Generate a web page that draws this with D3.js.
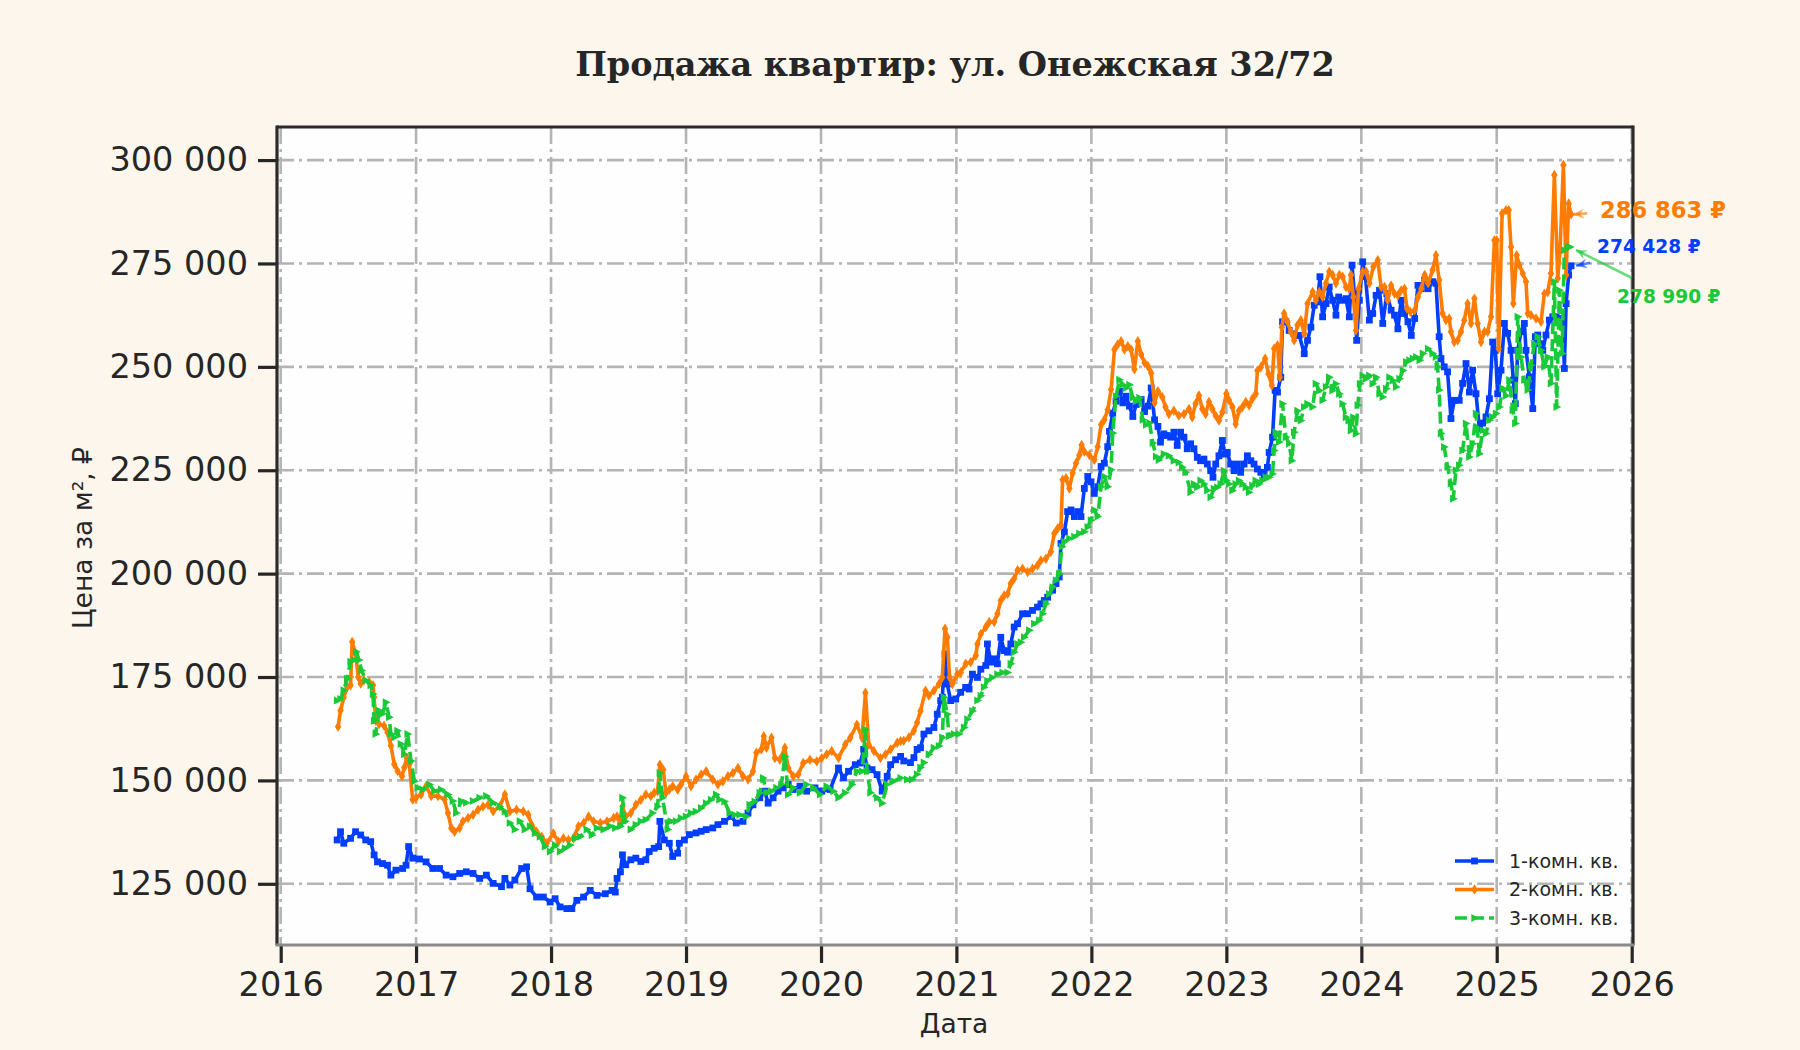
<!DOCTYPE html>
<html><head><meta charset="utf-8">
<script src="https://cdn.jsdelivr.net/npm/d3@7"></script>
<style>html,body{margin:0;padding:0;background:#fdf6ec;}svg{display:block;}</style>
</head><body>
<svg id="chart" width="1800" height="1050"></svg>
<script>
// ---------- data ----------
const chartTitle = "Продажа квартир: ул. Онежская 32/72";
const xTitle = "Дата";
const yTitle = "Цена за м², ₽";
const seriesNames = ["1-комн. кв.", "2-комн. кв.", "3-комн. кв."];
const seriesColors = ["#023eff", "#ff7c00", "#1ac938"];
const yearTicks = [2016, 2017, 2018, 2019, 2020, 2021, 2022, 2023, 2024, 2025, 2026];
const priceTicks = [125000, 150000, 175000, 200000, 225000, 250000, 275000, 300000];

// [decimal year, price per m²]
const room1 = [
[2016.417,135600],[2016.442,137600],[2016.466,134800],[2016.516,136000],[2016.553,137600],[2016.591,136800],[2016.628,135600],[2016.665,135200],[2016.690,132000],[2016.715,130300],[2016.752,129900],[2016.789,129500],[2016.814,127100],[2016.851,128300],[2016.901,128700],[2016.926,129500],[2016.945,134000],[2016.975,131200],
[2017.025,131000],[2017.074,130300],[2017.124,128700],[2017.174,128700],[2017.223,127100],[2017.273,126700],[2017.323,127500],[2017.372,127900],[2017.422,127500],[2017.471,126300],[2017.521,127100],[2017.571,125100],[2017.633,124300],[2017.658,126300],[2017.695,124700],[2017.732,125900],[2017.782,128700],[2017.819,129100],[2017.844,123800],[2017.893,121800],[2017.943,121800],[2017.993,120600],
[2018.030,121400],[2018.067,119400],[2018.117,119000],[2018.154,119000],[2018.191,121000],[2018.241,121800],[2018.290,123400],[2018.340,122200],[2018.402,122600],[2018.452,123400],[2018.476,123000],[2018.489,126300],[2018.514,127900],[2018.529,132000],[2018.553,129600],[2018.591,130800],[2018.628,131200],[2018.665,130400],[2018.702,130800],[2018.727,132800],[2018.764,133600],[2018.797,134000],[2018.806,140100],[2018.839,135600],[2018.876,134800],[2018.901,131600],[2018.938,132400],[2018.950,134800],[2018.988,135600],
[2019.025,136900],[2019.074,137300],[2019.112,137700],[2019.149,138100],[2019.198,138500],[2019.236,139300],[2019.285,140100],[2019.335,141300],[2019.372,139700],[2019.422,140100],[2019.459,142100],[2019.496,144100],[2019.546,145800],[2019.583,147400],[2019.608,144500],[2019.645,145800],[2019.682,147400],[2019.720,148200],[2019.757,149000],[2019.794,147800],[2019.844,148600],[2019.893,147400],[2019.955,148200],
[2020.005,147400],[2020.067,147800],[2020.129,153000],[2020.166,150600],[2020.203,152200],[2020.253,153800],[2020.290,154200],[2020.315,157500],[2020.340,153000],[2020.377,152600],[2020.414,151400],[2020.452,147400],[2020.489,151000],[2020.514,153800],[2020.551,155000],[2020.588,155800],[2020.611,154700],[2020.661,154300],[2020.686,155500],[2020.710,157500],[2020.735,157900],[2020.760,161200],[2020.797,162000],[2020.834,162800],[2020.859,166000],[2020.884,169300],[2020.896,170100],[2020.916,180600],[2020.933,173300],[2020.958,169300],[2020.995,169700],
[2021.032,171300],[2021.069,172500],[2021.094,172100],[2021.119,175700],[2021.156,174900],[2021.181,176900],[2021.218,177800],[2021.230,183000],[2021.255,178600],[2021.280,179400],[2021.304,178200],[2021.329,184600],[2021.354,181400],[2021.379,181000],[2021.403,183000],[2021.428,187100],[2021.453,187900],[2021.490,190300],[2021.527,190300],[2021.564,191100],[2021.601,191900],[2021.626,192700],[2021.651,193500],[2021.676,194300],[2021.713,196000],[2021.738,197600],[2021.762,199200],[2021.775,207300],[2021.800,210100],[2021.824,215000],[2021.849,215400],[2021.874,213800],[2021.898,215000],[2021.923,213800],[2021.948,220600],[2021.973,223500],[2021.997,222200],
[2022.022,219400],[2022.047,221000],[2022.072,225900],[2022.096,226700],[2022.121,230700],[2022.134,234400],[2022.158,238800],[2022.183,241700],[2022.208,244100],[2022.233,241300],[2022.257,242900],[2022.282,240500],[2022.307,238000],[2022.332,240900],[2022.369,242100],[2022.394,239200],[2022.418,240500],[2022.443,244900],[2022.468,237200],[2022.493,235600],[2022.512,231800],[2022.537,233800],[2022.562,233400],[2022.587,233000],[2022.611,234200],[2022.636,231000],[2022.661,234200],[2022.686,233000],[2022.710,230200],[2022.735,231400],[2022.760,230200],[2022.785,228100],[2022.809,227300],[2022.834,227700],[2022.859,226500],[2022.884,224900],[2022.901,223300],[2022.921,226500],[2022.945,228500],[2022.970,232200],[2022.990,228900],
[2023.007,229300],[2023.032,226500],[2023.057,224900],[2023.082,226500],[2023.106,224500],[2023.131,226500],[2023.156,228500],[2023.181,227300],[2023.205,226500],[2023.230,225300],[2023.255,224500],[2023.280,223700],[2023.304,225700],[2023.317,229300],[2023.342,233000],[2023.361,244300],[2023.379,243900],[2023.403,247500],[2023.416,260900],[2023.441,260900],[2023.465,258800],[2023.502,258000],[2023.540,257600],[2023.577,253200],[2023.601,256400],[2023.626,259600],[2023.651,264900],[2023.676,265700],[2023.693,271800],[2023.713,262100],[2023.738,265300],[2023.762,269300],[2023.787,266100],[2023.812,262500],[2023.832,266900],[2023.856,266100],[2023.886,266500],[2023.911,262100],[2023.931,274600],[2023.948,267700],[2023.965,256400],[2023.985,266100],
[2024.010,275400],[2024.030,271800],[2024.059,261300],[2024.084,262900],[2024.109,267300],[2024.134,268500],[2024.158,260500],[2024.188,267700],[2024.220,263700],[2024.245,262500],[2024.270,259200],[2024.294,266100],[2024.319,262900],[2024.344,260900],[2024.369,257600],[2024.394,261700],[2024.418,269700],[2024.443,268900],[2024.468,271000],[2024.493,268900],[2024.526,270600],[2024.551,270200],[2024.575,257300],[2024.588,252000],[2024.612,250000],[2024.637,248800],[2024.662,237500],[2024.686,241900],[2024.723,241900],[2024.748,246000],[2024.773,250800],[2024.798,243900],[2024.822,249200],[2024.847,243500],[2024.872,235100],[2024.896,236400],[2024.921,237900],[2024.946,242300],[2024.970,256000],[2024.990,254000],
[2025.007,243500],[2025.032,249200],[2025.057,260500],[2025.081,258100],[2025.106,254000],[2025.123,246800],[2025.138,241100],[2025.156,254000],[2025.180,258500],[2025.205,260500],[2025.217,254000],[2025.242,247600],[2025.267,239900],[2025.286,257300],[2025.304,257700],[2025.323,255600],[2025.341,254000],[2025.365,257700],[2025.390,261300],[2025.415,262100],[2025.440,262100],[2025.464,261700],[2025.489,261300],[2025.501,249600],[2025.514,265300],[2025.533,272200],[2025.551,274428]
];

const room2 = [
[2016.424,163000],[2016.442,166900],[2016.466,170100],[2016.491,172600],[2016.516,173000],[2016.528,183500],[2016.553,180700],[2016.573,175000],[2016.591,173400],[2016.615,174200],[2016.653,173800],[2016.682,173000],[2016.690,170100],[2016.702,164400],[2016.727,163600],[2016.764,163200],[2016.789,161600],[2016.814,158400],[2016.839,153900],[2016.863,152300],[2016.896,151000],[2016.913,153100],[2016.931,155500],[2016.950,153900],[2016.975,145400],
[2017.000,145800],[2017.037,146600],[2017.074,148600],[2017.112,146200],[2017.161,146200],[2017.211,145400],[2017.236,142100],[2017.261,138500],[2017.285,137600],[2017.323,138500],[2017.347,140100],[2017.385,140900],[2017.422,141700],[2017.459,142900],[2017.496,143700],[2017.533,144100],[2017.571,142500],[2017.620,143700],[2017.658,146600],[2017.695,142500],[2017.744,142900],[2017.794,142500],[2017.831,141700],[2017.856,139300],[2017.893,137600],[2017.931,136400],[2017.968,134800],
[2018.017,137200],[2018.055,135200],[2018.092,136000],[2018.129,135600],[2018.166,136000],[2018.203,138900],[2018.241,139700],[2018.278,141300],[2018.315,140100],[2018.365,139700],[2018.414,140100],[2018.464,140900],[2018.489,141300],[2018.514,139700],[2018.529,143700],[2018.553,141300],[2018.591,142100],[2018.628,144100],[2018.665,145300],[2018.702,146600],[2018.739,146200],[2018.764,147000],[2018.789,147400],[2018.806,153800],[2018.831,152600],[2018.851,147000],[2018.876,147800],[2018.901,148600],[2018.938,147800],[2018.963,149000],
[2019.000,151000],[2019.037,148600],[2019.074,150200],[2019.112,151400],[2019.149,152200],[2019.198,150200],[2019.236,149000],[2019.273,149800],[2019.310,151000],[2019.347,151800],[2019.385,153000],[2019.422,151000],[2019.459,150200],[2019.496,152200],[2019.521,156700],[2019.558,157500],[2019.576,160700],[2019.596,157900],[2019.633,160300],[2019.658,155400],[2019.695,155000],[2019.732,157900],[2019.757,153000],[2019.794,151000],[2019.831,151400],[2019.868,154200],[2019.918,155000],[2019.968,154600],
[2020.005,155400],[2020.042,156300],[2020.079,157100],[2020.129,155400],[2020.179,158700],[2020.216,160300],[2020.265,163500],[2020.303,160300],[2020.328,171200],[2020.352,158700],[2020.390,157100],[2020.439,155400],[2020.476,156300],[2020.514,157500],[2020.563,159100],[2020.588,159500],[2020.611,159600],[2020.649,160400],[2020.686,162000],[2020.710,164000],[2020.735,166800],[2020.772,171700],[2020.797,170500],[2020.834,171700],[2020.871,173300],[2020.896,174900],[2020.916,186700],[2020.933,184600],[2020.950,174900],[2020.970,173300],
[2021.007,175700],[2021.032,176100],[2021.069,178200],[2021.106,178600],[2021.144,180200],[2021.156,183000],[2021.181,185400],[2021.218,187100],[2021.243,188300],[2021.280,188300],[2021.304,190300],[2021.329,193500],[2021.354,194700],[2021.379,195100],[2021.403,197600],[2021.428,198800],[2021.453,200800],[2021.490,201200],[2021.527,200400],[2021.564,201200],[2021.601,202000],[2021.626,203200],[2021.663,203600],[2021.700,205300],[2021.725,209700],[2021.750,210900],[2021.775,211700],[2021.787,222700],[2021.812,223100],[2021.837,220600],[2021.861,224300],[2021.886,226700],[2021.911,228700],[2021.928,231100],[2021.948,229500],[2021.985,228700],
[2022.022,227500],[2022.047,230700],[2022.072,236000],[2022.096,237200],[2022.121,239600],[2022.146,244500],[2022.171,254200],[2022.195,255400],[2022.220,256200],[2022.245,254200],[2022.270,255000],[2022.294,254200],[2022.319,249400],[2022.344,256200],[2022.369,253000],[2022.394,251000],[2022.418,250200],[2022.443,248500],[2022.468,241300],[2022.493,244100],[2022.525,242700],[2022.549,240300],[2022.574,238600],[2022.611,239400],[2022.648,238200],[2022.686,238600],[2022.723,239800],[2022.747,237800],[2022.772,241100],[2022.797,243100],[2022.822,239800],[2022.846,238600],[2022.871,241500],[2022.896,239800],[2022.921,238200],[2022.945,237000],[2022.970,239000],
[2023.000,243500],[2023.020,241900],[2023.045,240300],[2023.069,236200],[2023.094,239400],[2023.119,240300],[2023.144,241500],[2023.168,240700],[2023.193,242300],[2023.218,243500],[2023.230,249100],[2023.255,249900],[2023.287,252000],[2023.312,248300],[2023.337,245500],[2023.354,254400],[2023.379,255200],[2023.396,247500],[2023.411,259600],[2023.428,262900],[2023.453,260900],[2023.478,258400],[2023.502,256400],[2023.527,260100],[2023.552,261300],[2023.577,258000],[2023.601,265300],[2023.639,268100],[2023.663,266100],[2023.688,268100],[2023.713,266900],[2023.738,270200],[2023.762,273000],[2023.787,272200],[2023.812,270200],[2023.837,272200],[2023.861,271800],[2023.886,269300],[2023.911,268900],[2023.923,272200],[2023.941,266900],[2023.960,258800],[2023.980,268900],
[2024.010,273000],[2024.035,273000],[2024.059,270200],[2024.089,274200],[2024.121,275800],[2024.146,269300],[2024.171,269300],[2024.195,266100],[2024.220,269700],[2024.245,267700],[2024.270,267300],[2024.294,268500],[2024.319,268900],[2024.337,264100],[2024.361,263300],[2024.394,263700],[2024.418,266900],[2024.443,268900],[2024.468,272200],[2024.493,270200],[2024.526,273400],[2024.551,277000],[2024.575,271000],[2024.600,262900],[2024.625,261300],[2024.649,261700],[2024.662,258500],[2024.686,256000],[2024.711,256400],[2024.736,258500],[2024.760,261300],[2024.785,265300],[2024.810,260500],[2024.835,266500],[2024.859,260500],[2024.884,256000],[2024.909,258500],[2024.933,258500],[2024.958,262100],[2024.983,280600],
[2025.000,280600],[2025.015,254400],[2025.040,287100],[2025.069,287900],[2025.089,287900],[2025.106,279000],[2025.123,265300],[2025.148,277000],[2025.168,274600],[2025.193,272600],[2025.217,270600],[2025.230,262900],[2025.254,262500],[2025.291,261700],[2025.328,260900],[2025.353,267700],[2025.378,268100],[2025.402,272600],[2025.427,296400],[2025.452,271400],[2025.469,278200],[2025.494,298800],[2025.514,272200],[2025.533,289500],[2025.551,286863]
];

const room3 = [
[2016.417,169300],[2016.442,169700],[2016.466,171800],[2016.491,174600],[2016.516,178700],[2016.541,179100],[2016.558,181100],[2016.578,179100],[2016.598,176600],[2016.628,174200],[2016.665,173000],[2016.682,170900],[2016.690,164400],[2016.702,161200],[2016.727,166900],[2016.752,166100],[2016.777,168900],[2016.801,165300],[2016.814,161200],[2016.839,160400],[2016.863,162000],[2016.888,158800],[2016.913,156300],[2016.938,161200],[2016.963,154700],[2016.988,149800],
[2017.012,148200],[2017.050,147800],[2017.099,149000],[2017.136,147400],[2017.186,147800],[2017.236,146600],[2017.273,145000],[2017.298,142100],[2017.335,145000],[2017.372,144600],[2017.422,145000],[2017.471,145800],[2017.521,146200],[2017.571,144600],[2017.620,143700],[2017.658,142500],[2017.695,139700],[2017.732,138100],[2017.769,140100],[2017.806,138100],[2017.844,138900],[2017.881,137200],[2017.918,136400],[2017.955,134000],[2017.993,132800],
[2018.030,134400],[2018.067,132800],[2018.104,133600],[2018.141,134400],[2018.179,136000],[2018.216,136400],[2018.265,138100],[2018.303,136800],[2018.340,138500],[2018.390,138100],[2018.439,138900],[2018.476,138500],[2018.514,138900],[2018.529,145800],[2018.548,140100],[2018.591,138100],[2018.628,139300],[2018.665,140100],[2018.702,140500],[2018.752,142100],[2018.789,143700],[2018.806,151800],[2018.826,145800],[2018.864,138100],[2018.888,140100],[2018.926,140100],[2018.963,140900],
[2019.000,141300],[2019.037,142100],[2019.074,142500],[2019.112,143300],[2019.149,144500],[2019.186,145300],[2019.223,146600],[2019.248,145300],[2019.285,144900],[2019.323,142100],[2019.360,141700],[2019.397,141700],[2019.447,141300],[2019.471,144100],[2019.509,144900],[2019.546,147000],[2019.571,150600],[2019.596,147000],[2019.633,147400],[2019.670,148200],[2019.707,149000],[2019.732,155800],[2019.757,146600],[2019.794,148200],[2019.844,147000],[2019.893,149000],[2019.943,148200],[2019.993,146600],
[2020.042,148600],[2020.092,147400],[2020.129,145800],[2020.179,147000],[2020.228,149000],[2020.265,152200],[2020.303,152200],[2020.328,162300],[2020.340,152200],[2020.365,147000],[2020.414,145800],[2020.452,144500],[2020.489,149000],[2020.538,149800],[2020.588,150600],[2020.636,150200],[2020.673,150200],[2020.710,151500],[2020.735,153100],[2020.760,154300],[2020.797,156300],[2020.834,157900],[2020.871,158300],[2020.896,160400],[2020.908,170100],[2020.933,166000],[2020.945,160700],[2020.983,161200],
[2021.020,161200],[2021.057,162800],[2021.082,164800],[2021.119,166800],[2021.156,169300],[2021.181,170500],[2021.205,172500],[2021.230,174100],[2021.267,174900],[2021.304,175700],[2021.342,176100],[2021.379,176100],[2021.403,178200],[2021.428,181000],[2021.453,183000],[2021.478,183400],[2021.502,184600],[2021.540,186300],[2021.577,187900],[2021.614,188700],[2021.639,190300],[2021.663,192700],[2021.688,195100],[2021.713,196700],[2021.738,198400],[2021.762,200000],[2021.782,206500],[2021.800,207700],[2021.837,208500],[2021.874,208900],[2021.911,209700],[2021.948,210100],[2021.973,211300],[2021.997,212900],
[2022.022,215400],[2022.047,213800],[2022.072,221000],[2022.096,223500],[2022.121,221000],[2022.146,225100],[2022.158,234000],[2022.183,242900],[2022.208,246900],[2022.233,245700],[2022.257,244900],[2022.282,245700],[2022.307,242500],[2022.332,241700],[2022.356,242500],[2022.381,237200],[2022.406,236000],[2022.431,236400],[2022.455,231600],[2022.480,228300],[2022.500,227500],[2022.537,228900],[2022.574,228500],[2022.611,227300],[2022.648,226900],[2022.673,225700],[2022.698,224500],[2022.735,219700],[2022.760,221700],[2022.785,220900],[2022.809,222500],[2022.834,221700],[2022.859,220100],[2022.884,218500],[2022.908,220500],[2022.933,220900],[2022.958,221700],[2022.983,224900],
[2023.000,222500],[2023.020,221700],[2023.045,220100],[2023.069,221700],[2023.094,222500],[2023.119,221700],[2023.144,220900],[2023.168,219700],[2023.193,221300],[2023.218,222500],[2023.243,221700],[2023.267,222500],[2023.292,223300],[2023.317,223300],[2023.342,224100],[2023.354,229800],[2023.366,234200],[2023.391,231800],[2023.416,241100],[2023.441,233000],[2023.465,231400],[2023.485,227300],[2023.502,234200],[2023.527,239400],[2023.552,237000],[2023.577,240300],[2023.601,241100],[2023.639,240300],[2023.663,245900],[2023.688,244300],[2023.713,241900],[2023.738,245100],[2023.762,247500],[2023.787,244300],[2023.812,245900],[2023.837,243500],[2023.861,241100],[2023.886,237800],[2023.906,237000],[2023.923,234600],[2023.941,237800],[2023.960,233800],[2023.973,240700],[2023.990,245900],
[2024.010,247900],[2024.035,247100],[2024.059,247900],[2024.084,245900],[2024.109,247500],[2024.134,243500],[2024.158,242700],[2024.183,244700],[2024.208,247500],[2024.233,246700],[2024.257,245100],[2024.282,247100],[2024.307,249100],[2024.332,251200],[2024.356,251600],[2024.381,252000],[2024.406,252400],[2024.431,251600],[2024.455,253200],[2024.493,254400],[2024.526,253200],[2024.551,252400],[2024.563,250000],[2024.575,244400],[2024.588,233900],[2024.612,230600],[2024.637,225800],[2024.662,221800],[2024.679,218100],[2024.699,225000],[2024.723,226200],[2024.748,229800],[2024.773,236300],[2024.798,228200],[2024.822,231400],[2024.847,238700],[2024.872,229000],[2024.896,234700],[2024.921,233900],[2024.946,237100],[2024.970,237900],[2024.995,238700],
[2025.020,240300],[2025.044,244800],[2025.069,243000],[2025.094,246800],[2025.119,239500],[2025.138,236300],[2025.156,262100],[2025.180,252400],[2025.205,246800],[2025.230,244400],[2025.254,250400],[2025.279,255600],[2025.304,257300],[2025.328,254000],[2025.353,250000],[2025.378,252400],[2025.402,246000],[2025.427,270600],[2025.444,240300],[2025.464,268500],[2025.484,253200],[2025.501,278200],[2025.526,279000],[2025.543,278990]
];

const seriesData = [room1, room2, room3];

// ---------- helpers ----------
function decYearToDate(d) {
  const y = Math.floor(d);
  const s = Date.UTC(y, 0, 1), e = Date.UTC(y + 1, 0, 1);
  return new Date(s + (d - y) * (e - s));
}
const fmtSpace = v => d3.format(",")(v).replace(/,/g, " ");

// ---------- layout ----------
const svg = d3.select("#chart");
const W = 1800, H = 1050;
const plot = { left: 277, right: 1633, top: 127, bottom: 945 };

svg.append("rect").attr("width", W).attr("height", H).attr("fill", "#fdf6ec");

const x = d3.scaleUtc()
  .domain([new Date(Date.UTC(2016, 0, 1)), new Date(Date.UTC(2026, 0, 1))])
  .range([280.7, 1631.7]);
const y = d3.scaleLinear().domain([110200, 308000]).range([plot.bottom, plot.top]);

// plot background
svg.append("rect")
  .attr("x", plot.left).attr("y", plot.top)
  .attr("width", plot.right - plot.left).attr("height", plot.bottom - plot.top)
  .attr("fill", "#fefefe");

// grid
const grid = svg.append("g").attr("class", "grid");
grid.selectAll("line.v").data(yearTicks).join("line")
  .attr("x1", d => x(new Date(Date.UTC(d, 0, 1)))).attr("x2", d => x(new Date(Date.UTC(d, 0, 1))))
  .attr("y1", plot.top).attr("y2", plot.bottom)
  .attr("stroke", "#b4b4b4").attr("stroke-width", 2.6).attr("stroke-dasharray", "17,5,3,5");
grid.selectAll("line.h").data(priceTicks).join("line")
  .attr("x1", plot.left).attr("x2", plot.right)
  .attr("y1", d => y(d)).attr("y2", d => y(d))
  .attr("stroke", "#b4b4b4").attr("stroke-width", 2.6).attr("stroke-dasharray", "17,5,3,5");

// clip
svg.append("clipPath").attr("id", "clip").append("rect")
  .attr("x", plot.left).attr("y", plot.top)
  .attr("width", plot.right - plot.left).attr("height", plot.bottom - plot.top);

const markerPaths = [
  "M-3.4,-3.4L3.4,-3.4L3.4,3.4L-3.4,3.4Z",
  "M0,-5.2L3.2,0L0,5.2L-3.2,0Z",
  "M-3.2,-4L4.6,0L-3.2,4Z"
];
const dashes = [null, null, "12,5"];

const line = d3.line()
  .x(d => x(decYearToDate(d[0])))
  .y(d => y(d[1]));

const dataG = svg.append("g").attr("clip-path", "url(#clip)");
seriesData.forEach((ser, i) => {
  const g = dataG.append("g");
  g.append("path").datum(ser)
    .attr("d", line)
    .attr("fill", "none")
    .attr("stroke", seriesColors[i])
    .attr("stroke-width", 3.6)
    .attr("stroke-linejoin", "round")
    .attr("stroke-dasharray", dashes[i]);
  g.selectAll("path.m").data(ser).join("path")
    .attr("class", "m")
    .attr("transform", d => `translate(${x(decYearToDate(d[0]))},${y(d[1])})`)
    .attr("d", markerPaths[i])
    .attr("fill", seriesColors[i]);
});

// axes
const tickFont = "33.5px";
const xAxis = d3.axisBottom(x)
  .tickValues(yearTicks.map(t => new Date(Date.UTC(t, 0, 1))))
  .tickFormat(d3.utcFormat("%Y"))
  .tickSize(18).tickPadding(9);
const gx = svg.append("g").attr("transform", `translate(0,${plot.bottom})`).call(xAxis);
gx.select(".domain").remove();
gx.selectAll(".tick line").attr("stroke", "#262626").attr("stroke-width", 3.2);
gx.selectAll(".tick text").attr("fill", "#262626")
  .style("font-family", "'DejaVu Sans', sans-serif").style("font-size", tickFont);

const yAxis = d3.axisLeft(y)
  .tickValues(priceTicks)
  .tickFormat(fmtSpace)
  .tickSize(19).tickPadding(10);
const gy = svg.append("g").attr("transform", `translate(${plot.left},0)`).call(yAxis);
gy.select(".domain").remove();
gy.selectAll(".tick line").attr("stroke", "#262626").attr("stroke-width", 3.2);
gy.selectAll(".tick text").attr("fill", "#262626")
  .style("font-family", "'DejaVu Sans', sans-serif").style("font-size", tickFont);

// spines
const sp = svg.append("g");
sp.append("line").attr("x1", plot.left).attr("x2", plot.right).attr("y1", plot.top).attr("y2", plot.top)
  .attr("stroke", "#2b2b2b").attr("stroke-width", 3.2);
sp.append("line").attr("x1", plot.left).attr("x2", plot.left).attr("y1", plot.top - 1.5).attr("y2", plot.bottom)
  .attr("stroke", "#2b2b2b").attr("stroke-width", 3.2);
sp.append("line").attr("x1", plot.right).attr("x2", plot.right).attr("y1", plot.top - 1.5).attr("y2", plot.bottom)
  .attr("stroke", "#2b2b2b").attr("stroke-width", 3.2);
sp.append("line").attr("x1", plot.left - 1.5).attr("x2", plot.right + 1.5).attr("y1", plot.bottom).attr("y2", plot.bottom)
  .attr("stroke", "#8a8a8a").attr("stroke-width", 3.2);

// title & axis labels
svg.append("text").attr("x", 955).attr("y", 76).attr("text-anchor", "middle")
  .attr("fill", "#262626")
  .style("font-family", "'DejaVu Serif', serif").style("font-weight", "bold").style("font-size", "33.5px")
  .text(chartTitle);
svg.append("text").attr("x", 954).attr("y", 1033).attr("text-anchor", "middle")
  .attr("fill", "#262626")
  .style("font-family", "'DejaVu Sans', sans-serif").style("font-size", "26.5px")
  .text(xTitle);
svg.append("text").attr("transform", "translate(92,538) rotate(-90)").attr("text-anchor", "middle")
  .attr("fill", "#262626")
  .style("font-family", "'DejaVu Sans', sans-serif").style("font-size", "26.5px")
  .text(yTitle);

// legend
const leg = svg.append("g");
seriesNames.forEach((name, i) => {
  const ly = 861 + i * 28.5;
  leg.append("line").attr("x1", 1455).attr("x2", 1494).attr("y1", ly).attr("y2", ly)
    .attr("stroke", seriesColors[i]).attr("stroke-width", 3.6)
    .attr("stroke-dasharray", i === 2 ? "12,5" : null);
  leg.append("path").attr("transform", `translate(1474.5,${ly})`).attr("d", markerPaths[i]).attr("fill", seriesColors[i]);
  leg.append("text").attr("x", 1509).attr("y", ly).attr("dy", "0.35em")
    .attr("fill", "#262626")
    .style("font-family", "'DejaVu Sans', sans-serif").style("font-size", "19px")
    .text(name);
});

// last-value annotations
const annot = [
  { i: 1, size: 22.6, tx: 29, ty: 4, ax1: 16, ay1: -1, ax2: 2, ay2: 0 },
  { i: 0, size: 18.6, tx: 26, ty: -13, ax1: 19, ay1: -3, ax2: 5, ay2: 0 },
  { i: 2, size: 18.6, tx: 47, ty: 56, ax1: 62, ay1: 31, ax2: 6, ay2: 3 }
];
const ag = svg.append("g");
annot.forEach(a => {
  const ser = seriesData[a.i];
  const last = ser[ser.length - 1];
  const px = x(decYearToDate(last[0])), py = y(last[1]);
  const x1 = px + a.ax1, y1 = py + a.ay1, x2 = px + a.ax2, y2 = py + a.ay2;
  const ang = Math.atan2(y2 - y1, x2 - x1);
  const hl = 12, hw = 0.42;
  ag.append("path")
    .attr("d", `M${x1},${y1}L${x2},${y2}`)
    .attr("fill", "none").attr("stroke", seriesColors[a.i]).attr("stroke-width", 2.6)
    .attr("stroke-opacity", 0.65);
  ag.append("path")
    .attr("d", `M${x2},${y2}L${x2 - hl * Math.cos(ang - hw)},${y2 - hl * Math.sin(ang - hw)}L${x2 - 0.6 * hl * Math.cos(ang)},${y2 - 0.6 * hl * Math.sin(ang)}L${x2 - hl * Math.cos(ang + hw)},${y2 - hl * Math.sin(ang + hw)}Z`)
    .attr("fill", seriesColors[a.i]).attr("fill-opacity", 0.65);
  ag.append("text").attr("x", px + a.tx).attr("y", py + a.ty)
    .attr("fill", seriesColors[a.i])
    .style("font-family", "'DejaVu Sans', sans-serif").style("font-weight", "bold").style("font-size", a.size + "px")
    .text(fmtSpace(last[1]) + " ₽");
});
</script>
</body></html>
